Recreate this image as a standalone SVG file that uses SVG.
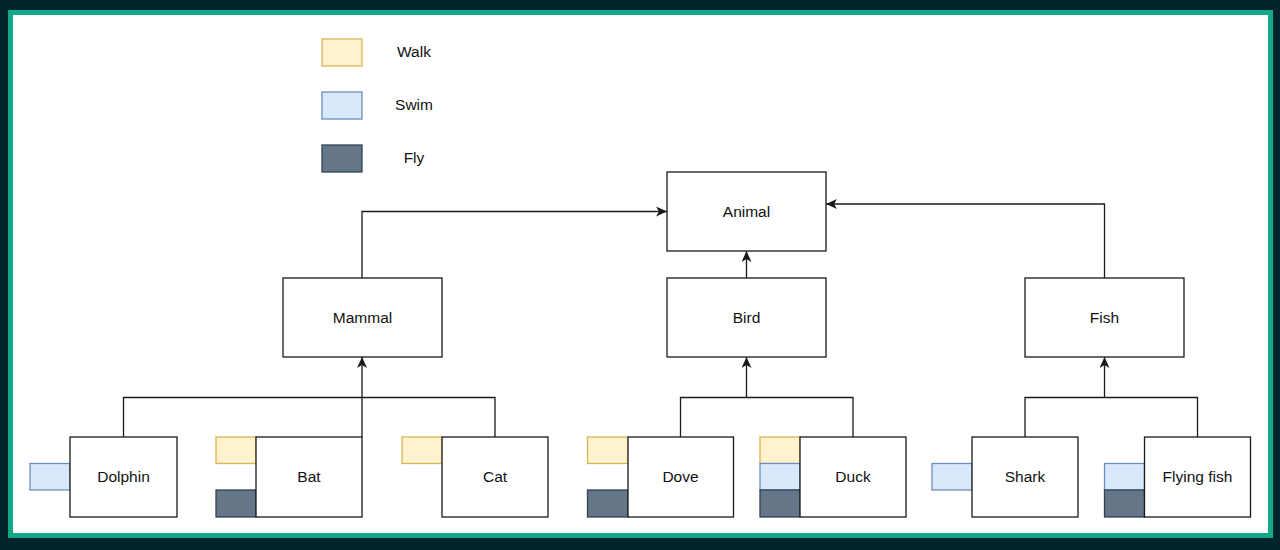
<svg xmlns="http://www.w3.org/2000/svg" width="1280" height="550" viewBox="0 0 1280 550">
<defs>
<style>
.box{fill:#ffffff;stroke:#1a1a1a;stroke-width:1.3}
.walk{fill:#fff2cc;stroke:#d6b656;stroke-width:1.3}
.swim{fill:#dae8fc;stroke:#6c8ebf;stroke-width:1.3}
.fly{fill:#647687;stroke:#314354;stroke-width:1.3}
.lbl{font-family:"Liberation Sans",Arial,sans-serif;font-size:15.5px;fill:#111111;text-anchor:middle;dominant-baseline:central}
.edge{fill:none;stroke:#1a1a1a;stroke-width:1.3}
</style>
<marker id="arr" markerUnits="userSpaceOnUse" markerWidth="12" markerHeight="10" refX="11" refY="5" orient="auto" viewBox="0 0 12 10">
<path d="M0,0 L11,5 L0,10 L3,5 Z" fill="#1a1a1a"/>
</marker>
</defs>
<rect x="0" y="0" width="1280" height="550" fill="#02242b"/>
<rect x="10.5" y="12.5" width="1260" height="523" fill="#ffffff" stroke="#14a88b" stroke-width="5"/>

<g id="legend">
<rect class="walk" x="322" y="39" width="40" height="27"/>
<text class="lbl" x="414" y="51.5">Walk</text>
<rect class="swim" x="322" y="92" width="40" height="27"/>
<text class="lbl" x="414" y="104.5">Swim</text>
<rect class="fly" x="322" y="145" width="40" height="27"/>
<text class="lbl" x="414" y="157.5">Fly</text>
</g>

<g id="connectors">
<path class="edge" d="M362,278 V211.5 H667" marker-end="url(#arr)"/>
<path class="edge" d="M1104.5,278 V204 H826" marker-end="url(#arr)"/>
<path class="edge" d="M746.5,278 V251" marker-end="url(#arr)"/>
<path class="edge" d="M123.5,437 V397.5 H362"/>
<path class="edge" d="M362,437 V357" marker-end="url(#arr)"/>
<path class="edge" d="M495,437 V397.5 H362"/>
<path class="edge" d="M680.5,437 V397.5 H746.5"/>
<path class="edge" d="M853,437 V397.5 H746.5"/>
<path class="edge" d="M746.5,397.5 V357" marker-end="url(#arr)"/>
<path class="edge" d="M1025,437 V397.5 H1104.5"/>
<path class="edge" d="M1197.5,437 V397.5 H1104.5"/>
<path class="edge" d="M1104.5,397.5 V357" marker-end="url(#arr)"/>
</g>

<g id="animal">
<rect class="box" x="667" y="172" width="159" height="79"/>
<text class="lbl" x="746.5" y="211">Animal</text>
</g>
<g id="mammal">
<rect class="box" x="283" y="278" width="159" height="79"/>
<text class="lbl" x="362.5" y="317">Mammal</text>
</g>
<g id="bird">
<rect class="box" x="667" y="278" width="159" height="79"/>
<text class="lbl" x="746.5" y="317">Bird</text>
</g>
<g id="fish">
<rect class="box" x="1025" y="278" width="159" height="79"/>
<text class="lbl" x="1104.5" y="317">Fish</text>
</g>

<g id="dolphin">
<rect class="swim" x="30" y="463.5" width="40" height="26.5"/>
<rect class="box" x="70" y="437" width="107" height="80"/>
<text class="lbl" x="123.5" y="476">Dolphin</text>
</g>
<g id="bat">
<rect class="walk" x="216" y="437" width="40" height="26.5"/>
<rect class="fly" x="216" y="490" width="40" height="27"/>
<rect class="box" x="256" y="437" width="106" height="80"/>
<text class="lbl" x="309" y="476">Bat</text>
</g>
<g id="cat">
<rect class="walk" x="402" y="437" width="40" height="26.5"/>
<rect class="box" x="442" y="437" width="106" height="80"/>
<text class="lbl" x="495" y="476">Cat</text>
</g>
<g id="dove">
<rect class="walk" x="587.5" y="437" width="40.5" height="26.5"/>
<rect class="fly" x="587.5" y="490" width="40.5" height="27"/>
<rect class="box" x="628" y="437" width="105.5" height="80"/>
<text class="lbl" x="680.5" y="476">Dove</text>
</g>
<g id="duck">
<rect class="walk" x="760" y="437" width="40" height="26.5"/>
<rect class="swim" x="760" y="463.5" width="40" height="26.5"/>
<rect class="fly" x="760" y="490" width="40" height="27"/>
<rect class="box" x="800" y="437" width="106" height="80"/>
<text class="lbl" x="853" y="476">Duck</text>
</g>
<g id="shark">
<rect class="swim" x="932" y="463.5" width="40" height="26.5"/>
<rect class="box" x="972" y="437" width="106" height="80"/>
<text class="lbl" x="1025" y="476">Shark</text>
</g>
<g id="flyingfish">
<rect class="swim" x="1104.5" y="463.5" width="40" height="26.5"/>
<rect class="fly" x="1104.5" y="490" width="40" height="27"/>
<rect class="box" x="1144.5" y="437" width="106" height="80"/>
<text class="lbl" x="1197.5" y="476">Flying fish</text>
</g>
</svg>
